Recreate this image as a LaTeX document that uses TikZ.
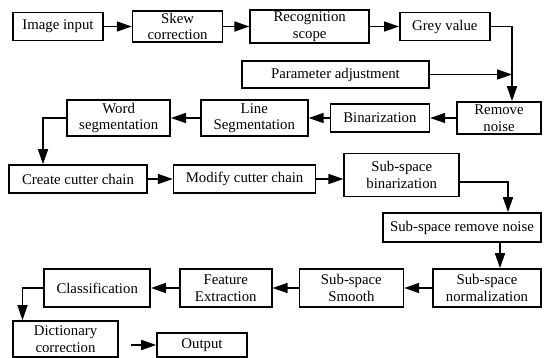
\documentclass[tikz,border=0pt]{standalone}
\usepackage{fontspec}
\setmainfont{Liberation Serif}
\usetikzlibrary{arrows.meta, positioning}
\tikzstyle{process} = [
  rectangle,
  align=center,
  inner sep=2pt,
  draw=black,
  line width=1.6pt,
  font=\fontsize{14.8}{16.5}\selectfont
]
\tikzstyle{arrow} = [line width=1.6pt, -{Triangle[length=15pt,width=10pt]}]

\begin{document}
\begin{tikzpicture}[x=1pt, y=-1pt]
    \useasboundingbox (0,0) rectangle (544,358);

    \node (image) [process, minimum width=90pt, minimum height=28pt] at (58,26.5) {Image input};
    \node (skew) [process, minimum width=90pt, minimum height=31pt, right=28pt of image] {Skew\\correction};
    \node (recog) [process, minimum width=119pt, minimum height=31pt, right=26pt of skew] {Recognition\\scope};
    \node (grey) [process, minimum width=90pt, minimum height=28pt, right=29pt of recog] {Grey value};
    \node (param) [process, minimum width=187pt, minimum height=27pt] at (335.5,74.5) {Parameter adjustment};
    \node (remove) [process, minimum width=84pt, minimum height=32pt] at (499,118) {Remove\\noise};
    \node (binar) [process, minimum width=99pt, minimum height=28pt, left=26pt of remove] {Binarization};
    \node (lineseg) [process, minimum width=107pt, minimum height=36pt, left=21pt of binar] {Line\\Segmentation};
    \node (wordseg) [process, minimum width=103pt, minimum height=36pt, left=29pt of lineseg] {Word\\segmentation};
    \node (create) [process, minimum width=138pt, minimum height=28pt] at (78,179) {Create cutter chain};
    \node (modify) [process, minimum width=142pt, minimum height=28pt, right=25pt of create] {Modify cutter chain};
    \node (subbin) [process, minimum width=115pt, minimum height=43pt, right=27pt of modify, yshift=4pt] {Sub-space\\binarization};
    \node (subrem) [process, minimum width=158pt, minimum height=29pt] at (462,227.5) {Sub-space remove noise};
    \node (subnorm) [process, minimum width=108pt, minimum height=38pt] at (487,288) {Sub-space\\normalization};
    \node (subsmooth) [process, minimum width=104pt, minimum height=38pt, left=28pt of subnorm] {Sub-space\\Smooth};
    \node (feature) [process, minimum width=92pt, minimum height=38pt, left=26pt of subsmooth] {Feature\\Extraction};
    \node (classif) [process, minimum width=106pt, minimum height=38pt, left=28pt of feature] {Classification};
    \node (dict) [process, minimum width=105pt, minimum height=36pt] at (65.5,339) {Dictionary\\correction};
    \node (output) [process, minimum width=90pt, minimum height=24pt] at (202,345) {Output};
    \coordinate (join) at ([xshift=13pt]remove.north |- param);

    \draw [arrow] (image) -- (skew);
    \draw [arrow] (skew) -- (recog);
    \draw [arrow] (recog) -- (grey);
    \draw [arrow] (grey) -| ([xshift=13pt]remove.north);
    \draw [arrow] (param) -- (join);
    \draw [arrow] (remove) -- (binar);
    \draw [arrow] (binar) -- (lineseg);
    \draw [arrow] (lineseg) -- (wordseg);
    \draw [arrow] (wordseg) -| ([xshift=-35pt]create.north);
    \draw [arrow] (create) -- (modify);
    \draw [arrow] (modify) -- (modify -| subbin.west);
    \draw [arrow] ([yshift=-7pt]subbin.east) -| ([xshift=46pt]subrem.north);
    \draw [arrow] ([xshift=13pt]subnorm.north |- subrem.south) -- ([xshift=13pt]subnorm.north);
    \draw [arrow] (subnorm) -- (subsmooth);
    \draw [arrow] (subsmooth) -- (feature);
    \draw [arrow] (feature) -- (classif);
    \draw [arrow] (classif) -| ([xshift=-43pt]dict.north);
    \draw [arrow, shorten <=12pt] (output -| dict.east) -- (output);
  \end{tikzpicture}
\end{document}
